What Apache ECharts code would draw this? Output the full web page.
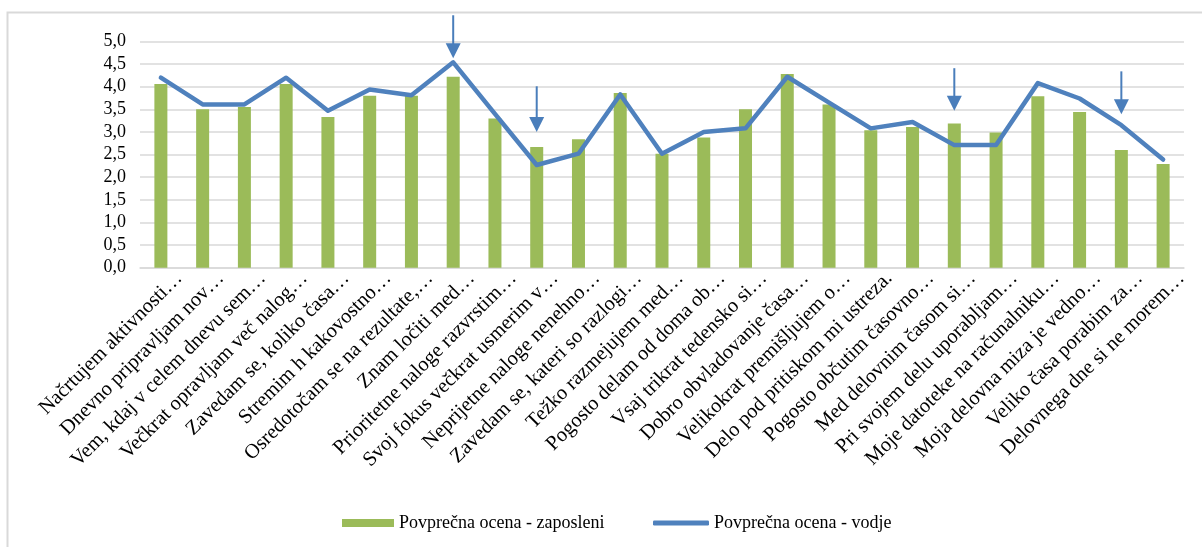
<!DOCTYPE html>
<html>
<head>
<meta charset="utf-8">
<script src="https://cdn.jsdelivr.net/npm/echarts@6/dist/echarts.min.js"></script>
<style>
  html, body { margin: 0; padding: 0; background: #fff; }
  #main { width: 1202px; height: 547px; }
</style>
</head>
<body>
<div id="main"></div>
<script>
// kategorije (trditve)
var categories = [
  'Načrtujem aktivnosti…',
  'Dnevno pripravljam nov…',
  'Vem, kdaj v celem dnevu sem…',
  'Večkrat opravljam več nalog…',
  'Zavedam se, koliko časa…',
  'Stremim h kakovostno…',
  'Osredotočam se na rezultate,…',
  'Znam ločiti med…',
  'Prioritetne naloge razvrstim…',
  'Svoj fokus večkrat usmerim v…',
  'Neprijetne naloge nenehno…',
  'Zavedam se, kateri so razlogi…',
  'Težko razmejujem med…',
  'Pogosto delam od doma ob…',
  'Vsaj trikrat tedensko si…',
  'Dobro obvladovanje časa…',
  'Velikokrat premišljujem o…',
  'Delo pod pritiskom mi ustreza.',
  'Pogosto občutim časovno…',
  'Med delovnim časom si…',
  'Pri svojem delu uporabljam…',
  'Moje datoteke na računalniku…',
  'Moja delovna miza je vedno…',
  'Veliko časa porabim za…',
  'Delovnega dne si ne morem…'
];
var zaposleni = [4.06, 3.50, 3.55, 4.06, 3.33, 3.80, 3.80, 4.22, 3.30, 2.67, 2.84, 3.86, 2.52,
  2.88, 3.50, 4.28, 3.61, 3.04, 3.11, 3.19, 2.99, 3.79, 3.44, 2.60, 2.29];
var vodje = [4.20, 3.61, 3.61, 4.20, 3.47, 3.94, 3.81, 4.54, 3.40, 2.27, 2.52, 3.83, 2.52,
  3.00, 3.08, 4.22, 3.65, 3.08, 3.22, 2.71, 2.71, 4.08, 3.74, 3.15, 2.39];
var yTicks = [0, 0.5, 1, 1.5, 2, 2.5, 3, 3.5, 4, 4.5, 5];

// puščice (kategorija, začetek, konica)
var arrowCats = ['Znam ločiti med…', 'Svoj fokus večkrat usmerim v…', 'Med delovnim časom si…', 'Veliko časa porabim za…'];
var arrowTop = [5.58, 4.01, 4.41, 4.34];
var arrowTip = [4.63, 3.00, 3.47, 3.39];

var nameZap = 'Povprečna ocena - zaposleni';
var nameVod = 'Povprečna ocena - vodje';
var serif = '"Liberation Serif", "Times New Roman", serif';

var chart = echarts.init(document.getElementById('main'));

var arrowData = arrowCats.map(function (c, i) { return [c, arrowTop[i], arrowTip[i]]; });

chart.setOption({
  animation: false,
  graphic: [{
    type: 'rect',
    shape: { x: 7.5, y: 12.5, width: 1210, height: 560 },
    style: { fill: 'none', stroke: '#d9d9d9', lineWidth: 2 },
    silent: true
  }],
  legend: [{
    data: [nameZap],
    left: 337, top: 509,
    icon: 'rect', itemWidth: 52, itemHeight: 8,
    textStyle: { fontFamily: serif, fontSize: 18, color: '#000' }
  }, {
    data: [nameVod],
    left: 648, top: 509,
    icon: 'roundRect', itemWidth: 56, itemHeight: 5,
    textStyle: { fontFamily: serif, fontSize: 18, color: '#000' }
  }],
  grid: { left: 140, right: 18, top: 41.5, bottom: 279.3 },
  xAxis: {
    type: 'category',
    data: categories,
    axisLine: { lineStyle: { color: '#d9d9d9', width: 1.5 } },
    axisTick: { length: 5, lineStyle: { color: '#d9d9d9', width: 1.5 } },
    axisLabel: {
      interval: 0, rotate: 45, margin: -11,
      align: 'right', verticalAlign: 'top', lineHeight: 52,
      fontFamily: serif, fontSize: 20.5, color: '#000'
    }
  },
  yAxis: {
    type: 'value',
    min: 0, max: 5, interval: 0.5,
    axisLine: { show: false },
    axisTick: { show: false },
    splitLine: { lineStyle: { color: '#d9d9d9', width: 1.5 } },
    axisLabel: {
      margin: 14,
      fontFamily: serif, fontSize: 18, color: '#000',
      formatter: function (v) { return v.toFixed(1).replace('.', ','); }
    }
  },
  series: [{
    name: nameZap,
    type: 'bar',
    data: zaposleni,
    barWidth: 13,
    itemStyle: { color: '#9bbb59' }
  }, {
    name: nameVod,
    type: 'line',
    data: vodje,
    showSymbol: false,
    symbol: 'none',
    lineStyle: { color: '#4f81bd', width: 4.5, cap: 'round', join: 'round' },
    itemStyle: { color: '#4f81bd' }
  }, {
    type: 'custom',
    data: arrowData,
    encode: { x: 0, y: [1, 2] },
    clip: false,
    silent: true,
    renderItem: function (params, api) {
      var p0 = api.coord([api.value(0), api.value(1)]);
      var p1 = api.coord([api.value(0), api.value(2)]);
      var hh = 15, hw = 7.5;
      return {
        type: 'group',
        children: [{
          type: 'line',
          shape: { x1: p0[0], y1: p0[1], x2: p1[0], y2: p1[1] - hh + 1 },
          style: { stroke: '#4a7ebb', lineWidth: 2 }
        }, {
          type: 'polygon',
          shape: { points: [[p1[0] - hw, p1[1] - hh], [p1[0] + hw, p1[1] - hh], [p1[0], p1[1]]] },
          style: { fill: '#4a7ebb' }
        }]
      };
    }
  }]
});
</script>
</body>
</html>
